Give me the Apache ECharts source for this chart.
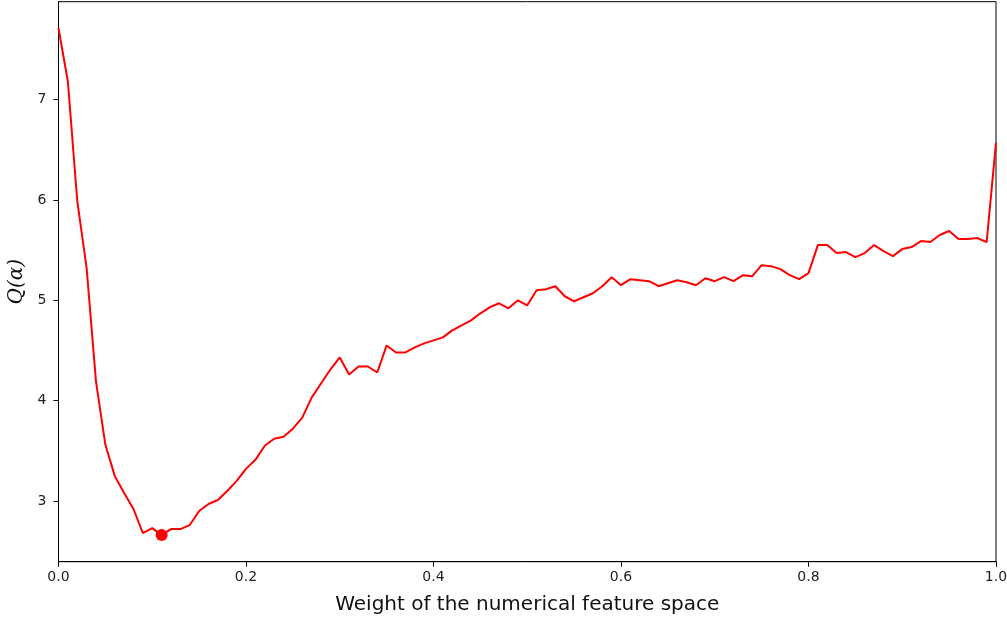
<!DOCTYPE html>
<html>
<head>
<meta charset="utf-8">
<script src="https://cdn.jsdelivr.net/npm/echarts@6/dist/echarts.min.js"></script>
<style>
  html, body { margin: 0; padding: 0; background: #fff; }
  #chart { width: 1007px; height: 620px; }
</style>
</head>
<body>
<div id="chart"></div>
<script>
// weights of the numerical feature space (x)
const alphas = [
  0.00, 0.01, 0.02, 0.03, 0.04, 0.05, 0.06, 0.07, 0.08, 0.09,
  0.10, 0.11, 0.12, 0.13, 0.14, 0.15, 0.16, 0.17, 0.18, 0.19,
  0.20, 0.21, 0.22, 0.23, 0.24, 0.25, 0.26, 0.27, 0.28, 0.29,
  0.30, 0.31, 0.32, 0.33, 0.34, 0.35, 0.36, 0.37, 0.38, 0.39,
  0.40, 0.41, 0.42, 0.43, 0.44, 0.45, 0.46, 0.47, 0.48, 0.49,
  0.50, 0.51, 0.52, 0.53, 0.54, 0.55, 0.56, 0.57, 0.58, 0.59,
  0.60, 0.61, 0.62, 0.63, 0.64, 0.65, 0.66, 0.67, 0.68, 0.69,
  0.70, 0.71, 0.72, 0.73, 0.74, 0.75, 0.76, 0.77, 0.78, 0.79,
  0.80, 0.81, 0.82, 0.83, 0.84, 0.85, 0.86, 0.87, 0.88, 0.89,
  0.90, 0.91, 0.92, 0.93, 0.94, 0.95, 0.96, 0.97, 0.98, 0.99,
  1.00
]

// Q(alpha)
const qValues = [
  7.71, 7.18, 5.99, 5.32, 4.19, 3.56, 3.25, 3.08, 2.92, 2.68,
  2.73, 2.66, 2.72, 2.72, 2.76, 2.90, 2.97, 3.01, 3.10, 3.20,
  3.32, 3.41, 3.55, 3.62, 3.64, 3.72, 3.83, 4.03, 4.17, 4.31,
  4.43, 4.26, 4.34, 4.34, 4.28, 4.55, 4.48, 4.48, 4.53, 4.57,
  4.60, 4.63, 4.70, 4.75, 4.80, 4.87, 4.93, 4.97, 4.92, 5.00,
  4.95, 5.10, 5.11, 5.14, 5.04, 4.99, 5.03, 5.07, 5.14, 5.23,
  5.15, 5.21, 5.20, 5.19, 5.14, 5.17, 5.20, 5.18, 5.15, 5.22,
  5.19, 5.23, 5.19, 5.25, 5.24, 5.35, 5.34, 5.31, 5.25, 5.21,
  5.27, 5.55, 5.55, 5.47, 5.48, 5.43, 5.47, 5.55, 5.49, 5.44,
  5.51, 5.53, 5.59, 5.58, 5.65, 5.69, 5.61, 5.61, 5.62, 5.58,
  6.57
]

// minimum marker
const bestAlpha = [0.11]
const bestQ = [2.66]

const yTicks = [3, 4, 5, 6, 7]

const chart = echarts.init(document.getElementById('chart'))

const axisFont = { fontFamily: 'DejaVu Sans', fontSize: 14, color: '#222' }

const option = {
  animation: false,
  backgroundColor: '#fff',
  grid: {
    left: 58.5,
    right: 11,
    top: 1.7,
    bottom: 58.3,
    containLabel: false,
    outerBoundsMode: 'none',
    show: true,
    borderColor: '#000',
    borderWidth: 1,
    backgroundColor: 'transparent'
  },
  xAxis: {
    type: 'value',
    min: 0,
    max: 1,
    interval: 0.2,
    name: 'Weight of the numerical feature space',
    nameLocation: 'middle',
    nameGap: 33,
    nameTextStyle: { fontFamily: 'DejaVu Sans', fontSize: 20, color: '#111' },
    axisLine: { show: true, onZero: false, lineStyle: { color: '#000', width: 1 } },
    axisTick: { show: true, length: 5, lineStyle: { color: '#000' } },
    axisLabel: Object.assign({ margin: 9, formatter: v => v.toFixed(1) }, axisFont),
    splitLine: { show: false }
  },
  yAxis: {
    type: 'value',
    min: 2.395,
    max: 7.975,
    name: 'Q(α)',
    nameLocation: 'middle',
    nameGap: 31,
    nameRotate: 90,
    nameTextStyle: { fontFamily: 'DejaVu Serif', fontStyle: 'italic', fontSize: 20, color: '#111' },
    axisLine: { show: true, onZero: false, lineStyle: { color: '#000', width: 1 } },
    axisTick: { show: true, length: 5, customValues: yTicks, lineStyle: { color: '#000' } },
    axisLabel: Object.assign({ margin: 12, customValues: yTicks }, axisFont),
    splitLine: { show: false }
  },
  series: [
    {
      type: 'line',
      data: alphas.map((a, i) => [a, qValues[i]]),
      showSymbol: false,
      symbol: 'none',
      lineStyle: { color: '#ff0000', width: 2 },
      z: 2
    },
    {
      type: 'scatter',
      data: bestAlpha.map((a, i) => [a, bestQ[i]]),
      symbol: 'circle',
      symbolSize: 12,
      itemStyle: { color: '#ff0000', opacity: 1 },
      z: 3
    }
  ]
}

chart.setOption(option)
</script>
</body>
</html>
